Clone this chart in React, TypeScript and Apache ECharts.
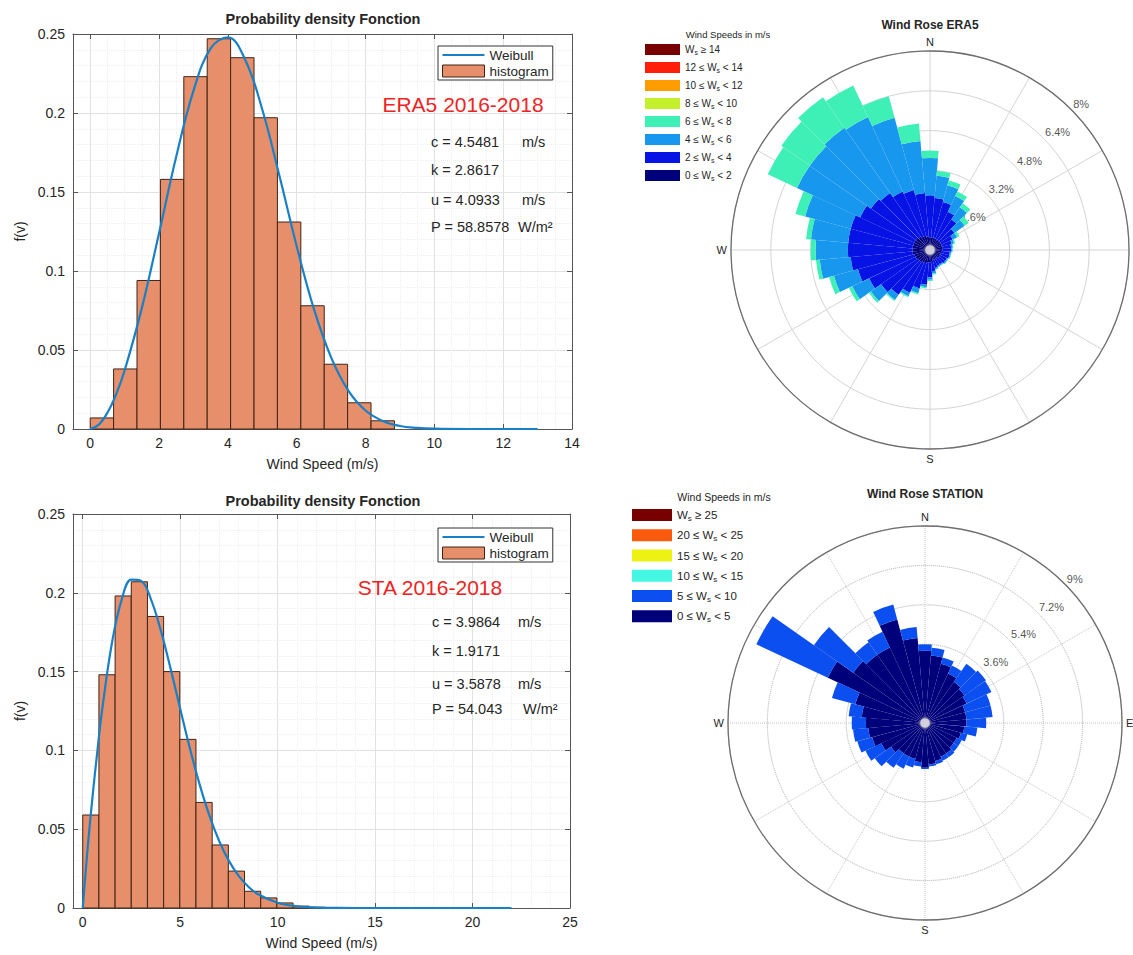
import React, { useEffect, useRef } from "react";
import * as echarts from "echarts";

// ---------------- Histogram + Weibull data ----------------
const ERA_BIN_EDGES = [0, 0.68, 1.36, 2.04, 2.72, 3.4, 4.08, 4.76, 5.44, 6.12, 6.8, 7.48, 8.16, 8.84];
const ERA_BIN_HEIGHTS = [0.007, 0.038, 0.094, 0.158, 0.223, 0.247, 0.235, 0.197, 0.131, 0.078, 0.041, 0.0166, 0.0052];
const ERA_WEIBULL_X = [0, 0.25, 0.5, 0.75, 1, 1.5, 2, 2.5, 3, 3.5, 4, 4.5, 5, 5.5, 6, 6.5, 7, 7.5, 8, 8.5, 9, 9.5, 10, 11, 12, 13];
const ERA_WEIBULL_Y = [0, 0.0028, 0.0103, 0.0218, 0.037, 0.0765, 0.1239, 0.1724, 0.214, 0.2409, 0.2479, 0.2339, 0.2022, 0.1601, 0.1157, 0.076, 0.0453, 0.0243, 0.0117, 0.0051, 0.0019, 0.0007, 0.0002, 0, 0, 0];

const STA_BIN_EDGES = [0, 0.83, 1.66, 2.49, 3.32, 4.15, 4.98, 5.81, 6.64, 7.47, 8.3, 9.13, 9.96, 10.79, 11.62, 12.45];
const STA_BIN_HEIGHTS = [0.059, 0.148, 0.198, 0.207, 0.185, 0.15, 0.107, 0.067, 0.04, 0.0234, 0.0106, 0.0064, 0.0032, 0.0012, 0.0005];
const STA_WEIBULL_X = [0, 0.25, 0.5, 0.75, 1, 1.5, 2, 2.5, 3, 3.5, 4, 4.5, 5, 5.5, 6, 6.5, 7, 7.5, 8, 8.5, 9, 10, 11, 12, 13, 14, 16, 19, 22];
const STA_WEIBULL_Y = [0, 0.0378, 0.0703, 0.0995, 0.1261, 0.1683, 0.1957, 0.2083, 0.2075, 0.1958, 0.1763, 0.1522, 0.1264, 0.1012, 0.0783, 0.0586, 0.0425, 0.0299, 0.0204, 0.0135, 0.0087, 0.0033, 0.0011, 0.0003, 0.0001, 0, 0, 0, 0];

const ERA_PARAM_TEXT = ["c = 4.5481", "k = 2.8617", "u = 4.0933", "P = 58.8578"];
const ERA_PARAM_UNITS = ["m/s", "", "m/s", "W/m²"];
const STA_PARAM_TEXT = ["c = 3.9864", "k = 1.9171", "u = 3.5878", "P = 54.043"];
const STA_PARAM_UNITS = ["m/s", "", "m/s", "W/m²"];

// ---------------- Wind rose data (% frequency per 10° sector, stacked) ----------------
const DIRECTIONS = ["0", "10", "20", "30", "40", "50", "60", "70", "80", "90", "100", "110", "120", "130", "140", "150", "160", "170",
  "180", "190", "200", "210", "220", "230", "240", "250", "260", "270", "280", "290", "300", "310", "320", "330", "340", "350"];

const ERA_0_2 = [0.5, 0.5, 0.5, 0.5, 0.5, 0.5, 0.5, 0.5, 0.5, 0.5, 0.45, 0.45, 0.45, 0.45, 0.4, 0.4, 0.4, 0.45, 0.5, 0.5, 0.55, 0.55, 0.6, 0.6, 0.65, 0.65, 0.7, 0.7, 0.7, 0.7, 0.7, 0.7, 0.65, 0.6, 0.6, 0.55];
const ERA_2_4 = [1.7, 1.6, 1.5, 1.2, 1.0, 0.7, 0.5, 0.4, 0.35, 0.35, 0.35, 0.35, 0.3, 0.3, 0.3, 0.3, 0.35, 0.4, 0.6, 0.9, 1.05, 1.35, 1.6, 1.8, 2.05, 2.35, 2.5, 2.6, 2.6, 2.6, 2.4, 2.2, 2.15, 2.0, 1.9, 1.75];
const ERA_4_6 = [1.5, 0.9, 0.7, 0.7, 0.6, 0.5, 0.2, 0.1, 0.07, 0.05, 0.05, 0.05, 0.05, 0.05, 0.05, 0.05, 0.05, 0.1, 0.1, 0.1, 0.2, 0.15, 0.25, 0.5, 0.75, 1.0, 1.25, 1.3, 1.5, 1.9, 2.8, 3.0, 3.2, 3.3, 3.0, 2.1];
const ERA_6_8 = [0.3, 0.2, 0.2, 0.2, 0.2, 0.2, 0.1, 0.05, 0.03, 0.02, 0.02, 0.02, 0.02, 0.02, 0.02, 0.02, 0.02, 0.05, 0.05, 0.05, 0.05, 0.05, 0.05, 0.1, 0.15, 0.2, 0.15, 0.2, 0.2, 0.4, 1.3, 1.4, 1.5, 1.4, 0.9, 0.7];
const ERA_EMPTY: number[] = [];
const ERA_RINGS = [1.6, 3.2, 4.8, 6.4, 8];

const STA_0_5 = [3.3, 3.1, 2.8, 2.5, 2.3, 2.2, 2.1, 1.9, 1.9, 1.9, 1.8, 1.7, 1.6, 1.6, 1.7, 1.7, 1.8, 1.9, 2.05, 1.8, 1.7, 1.7, 1.7, 1.9, 2.2, 2.5, 2.6, 2.7, 2.9, 3.3, 4.9, 4.0, 3.8, 3.8, 4.9, 3.9];
const STA_5_10 = [0.3, 0.35, 0.3, 0.4, 1.0, 1.2, 1.25, 1.2, 1.2, 0.9, 0.6, 0.3, 0.25, 0.25, 0.2, 0.2, 0.15, 0.1, 0.05, 0.2, 0.4, 0.6, 0.8, 0.9, 0.8, 0.7, 0.7, 0.65, 0.6, 1.1, 3.6, 2.2, 0.7, 0.8, 0.7, 0.5];
const STA_EMPTY: number[] = [];
const STA_RINGS = [1.8, 3.6, 5.4, 7.2, 9];

const ERA_CLASS_NAMES = ["era0", "era1", "era2", "era3", "era4", "era5", "era6", "era7"];
const ERA_CLASS_LABELS = [
  "{t|0 ≤ W}{s|s}{t| < 2}", "{t|2 ≤ W}{s|s}{t| < 4}", "{t|4 ≤ W}{s|s}{t| < 6}", "{t|6 ≤ W}{s|s}{t| < 8}",
  "{t|8 ≤ W}{s|s}{t| < 10}", "{t|10 ≤ W}{s|s}{t| < 12}", "{t|12 ≤ W}{s|s}{t| < 14}", "{t|W}{s|s}{t| ≥ 14}",
];
const ERA_CLASS_COLORS = ["#00007a", "#0712e4", "#1897ef", "#3ff0b6", "#c4f02c", "#ff9c00", "#ff1e0a", "#780000"];
const ERA_CLASS_DATA = [ERA_0_2, ERA_2_4, ERA_4_6, ERA_6_8, ERA_EMPTY, ERA_EMPTY, ERA_EMPTY, ERA_EMPTY];

const STA_CLASS_NAMES = ["sta0", "sta1", "sta2", "sta3", "sta4", "sta5"];
const STA_CLASS_LABELS = [
  "{t|0 ≤ W}{s|s}{t| < 5}", "{t|5 ≤ W}{s|s}{t| < 10}", "{t|10 ≤ W}{s|s}{t| < 15}",
  "{t|15 ≤ W}{s|s}{t| < 20}", "{t|20 ≤ W}{s|s}{t| < 25}", "{t|W}{s|s}{t| ≥ 25}",
];
const STA_CLASS_COLORS = ["#00007a", "#0c4ff0", "#45f7e2", "#eef212", "#fb5a0c", "#780000"];
const STA_CLASS_DATA = [STA_0_5, STA_5_10, STA_EMPTY, STA_EMPTY, STA_EMPTY, STA_EMPTY];

const ERA_COMPASS: any = { 0: "N", 180: "S", 270: "W" };
const STA_COMPASS: any = { 0: "N", 90: "E", 180: "S", 270: "W" };

// ---------------- styles ----------------
const FONT = '"Liberation Sans", Arial, Helvetica, sans-serif';
const TXT = "#262626";
const AXIS_C = "#555555";
const BAR_FILL = "#e68f6a";
const BAR_EDGE = "#3f2417";
const LINE_C = "#1a80c6";

function histXAxes(gi: number, xmax: number, splitNumber: number, minorSplit: number) {
  const common: any = { gridIndex: gi, type: "value", min: -0.5, max: xmax, splitNumber };
  return [
    {
      ...common,
      position: "bottom",
      axisLine: { show: true, onZero: false, lineStyle: { color: AXIS_C, width: 1 } },
      axisTick: { show: true, inside: true, length: 5, lineStyle: { color: AXIS_C } },
      axisLabel: { showMinLabel: false, margin: 7, fontSize: 14, color: TXT, fontFamily: FONT },
      splitLine: { show: true, lineStyle: { color: "#e2e2e2", width: 1 } },
      minorTick: { show: false, splitNumber: minorSplit },
      minorSplitLine: { show: true, lineStyle: { color: "#efefef", width: 1, type: "dotted" } },
      name: "Wind Speed (m/s)",
      nameLocation: "middle",
      nameGap: 28,
      nameTextStyle: { fontSize: 14, color: TXT, fontFamily: FONT },
    },
    {
      ...common,
      position: "top",
      axisLine: { show: true, onZero: false, lineStyle: { color: AXIS_C, width: 1 } },
      axisTick: { show: true, inside: true, length: 5, lineStyle: { color: AXIS_C } },
      axisLabel: { show: false },
      splitLine: { show: false },
    },
  ];
}

function histYAxes(gi: number) {
  const common: any = { gridIndex: gi, type: "value", min: 0, max: 0.25, interval: 0.05 };
  return [
    {
      ...common,
      position: "left",
      axisLine: { show: true, onZero: false, lineStyle: { color: AXIS_C, width: 1 } },
      axisTick: { show: true, inside: true, length: 5, lineStyle: { color: AXIS_C } },
      axisLabel: { margin: 8, fontSize: 14, color: TXT, fontFamily: FONT },
      splitLine: { show: true, lineStyle: { color: "#e2e2e2", width: 1 } },
      minorTick: { show: false, splitNumber: 5 },
      minorSplitLine: { show: true, lineStyle: { color: "#efefef", width: 1, type: "dotted" } },
      name: "f(v)",
      nameLocation: "middle",
      nameGap: 46,
      nameRotate: 90,
      nameTextStyle: { fontSize: 14, color: TXT, fontFamily: FONT },
    },
    {
      ...common,
      position: "right",
      axisLine: { show: true, onZero: false, lineStyle: { color: AXIS_C, width: 1 } },
      axisTick: { show: true, inside: true, length: 5, lineStyle: { color: AXIS_C } },
      axisLabel: { show: false },
      splitLine: { show: false },
    },
  ];
}

function histSeries(xi: number, yi: number, edges: number[], heights: number[]) {
  return {
    type: "custom",
    name: "histogram",
    xAxisIndex: xi,
    yAxisIndex: yi,
    data: heights.map((h, i) => [edges[i], edges[i + 1], h]),
    encode: { x: [0, 1], y: 2 },
    itemStyle: { color: BAR_FILL },
    z: 2,
    silent: true,
    renderItem: (_params: any, api: any) => {
      const a = api.coord([api.value(0), 0]);
      const b = api.coord([api.value(1), api.value(2)]);
      return {
        type: "rect",
        shape: { x: a[0], y: b[1], width: b[0] - a[0], height: a[1] - b[1] },
        style: { fill: BAR_FILL, stroke: BAR_EDGE, lineWidth: 1 },
      };
    },
  };
}

function weibullSeries(xi: number, yi: number, xs: number[], ys: number[]) {
  return {
    type: "line",
    name: "Weibull",
    xAxisIndex: xi,
    yAxisIndex: yi,
    data: xs.map((x, i) => [x, ys[i]]),
    symbol: "none",
    smooth: 0.4,
    lineStyle: { color: LINE_C, width: 2.2 },
    itemStyle: { color: LINE_C },
    z: 3,
    silent: true,
  };
}

function histLegend(left: number, top: number) {
  return {
    orient: "vertical",
    left,
    top,
    backgroundColor: "#ffffff",
    borderColor: "#333333",
    borderWidth: 1,
    borderRadius: 0,
    padding: [2, 4, 2, 4],
    itemGap: 2,
    itemWidth: 42,
    itemHeight: 12,
    itemTextGap: 3,
    selectedMode: false,
    symbolKeepAspect: true,
    textStyle: { fontSize: 13.5, color: TXT, fontFamily: FONT },
    data: [
      { name: "Weibull", icon: "path://M0,0L42,0L42,2.2L0,2.2Z", itemStyle: { color: LINE_C } },
      { name: "histogram", icon: "rect", itemStyle: { color: BAR_FILL, borderColor: BAR_EDGE, borderWidth: 1 } },
    ],
  };
}

function roseAxes(dataIdx: number, gridIdx: number, max: number, ring: number, dotted: boolean, compass: any) {
  const angle = [
    {
      polarIndex: dataIdx, type: "category", data: DIRECTIONS, startAngle: 95, clockwise: true,
      axisLine: { show: false }, axisTick: { show: false }, axisLabel: { show: false }, splitLine: { show: false },
    },
    {
      polarIndex: gridIdx, type: "value", min: 0, max: 360, interval: 30, startAngle: 90, clockwise: true,
      axisLine: { show: true, lineStyle: { color: "#6e6e6e", width: 1.3 } },
      axisTick: { show: false },
      axisLabel: {
        show: true, margin: 4, fontSize: 11, color: TXT, fontFamily: FONT,
        formatter: (v: number) => (v < 360 && compass[v] ? compass[v] : ""),
      },
      splitLine: { show: true, lineStyle: { color: dotted ? "#c4c4c4" : "#d4d4d4", width: 1, type: dotted ? "dotted" : "solid" } },
    },
  ];
  const radius = [
    {
      polarIndex: dataIdx, type: "value", min: 0, max,
      axisLine: { show: false }, axisTick: { show: false }, axisLabel: { show: false }, splitLine: { show: false },
    },
    {
      polarIndex: gridIdx, type: "value", min: 0, max, interval: ring,
      axisLine: { show: false }, axisTick: { show: false }, axisLabel: { show: false },
      splitLine: { show: true, lineStyle: { color: dotted ? "#a9a9a9" : "#d4d4d4", width: 1, type: dotted ? "dotted" : "solid" } },
    },
  ];
  return { angle, radius };
}

function roseSeries(dataIdx: number, gridIdx: number, stack: string, names: string[], colors: string[], datas: number[][], rings: number[]) {
  const bars = names.map((n, i) => ({
    type: "bar",
    name: n,
    coordinateSystem: "polar",
    polarIndex: dataIdx,
    stack,
    data: datas[i],
    itemStyle: { color: colors[i] },
    barCategoryGap: "0%",
    z: 2,
    silent: true,
  }));
  const ringLabels = {
    type: "scatter",
    coordinateSystem: "polar",
    polarIndex: gridIdx,
    data: rings.map((r) => [r, 45]),
    symbolSize: 1,
    itemStyle: { color: "rgba(0,0,0,0)" },
    label: {
      show: true, position: "right", distance: 2, offset: [0, -5],
      formatter: (p: any) => p.value[0] + "%",
      fontSize: 11, color: TXT, fontFamily: FONT,
    },
    z: 1,
    silent: true,
  };
  const centerDot = {
    type: "scatter",
    coordinateSystem: "polar",
    polarIndex: gridIdx,
    data: [[0, 0]],
    symbolSize: 10,
    itemStyle: { color: "#f6f3f3", borderColor: "#8e8e8e", borderWidth: 1 },
    z: 5,
    silent: true,
  };
  return [...bars, ringLabels, centerDot];
}

function roseLegend(left: number, top: number, names: string[], labels: string[], w: number, h: number, gap: number, fs: number) {
  const map: any = {};
  names.forEach((n, i) => (map[n] = labels[i]));
  return {
    orient: "vertical",
    left,
    top,
    itemWidth: w,
    itemHeight: h,
    itemGap: gap,
    itemTextGap: 3,
    icon: "rect",
    selectedMode: false,
    padding: 0,
    data: [...names].reverse(),
    formatter: (n: string) => map[n],
    textStyle: {
      fontSize: fs, color: TXT, fontFamily: FONT,
      rich: {
        t: { fontSize: fs, color: TXT, fontFamily: FONT, verticalAlign: "middle", lineHeight: fs + 3 },
        s: { fontSize: fs * 0.7, color: TXT, fontFamily: FONT, verticalAlign: "bottom" },
      },
    },
  };
}

function txt(x: number, y: number, text: string, size: number, opts: any = {}) {
  return {
    type: "text",
    x,
    y,
    silent: true,
    z: 10,
    style: {
      text,
      fontSize: size,
      fontFamily: FONT,
      fontWeight: opts.bold ? "bold" : "normal",
      fill: opts.color || TXT,
      align: opts.align || "left",
      verticalAlign: "middle",
    },
  };
}

function buildOption() {
  const topX = histXAxes(0, 14, 7, 4);
  const botX = histXAxes(1, 25, 5, 5);
  const topY = histYAxes(0);
  const botY = histYAxes(1);

  const eraRose = roseAxes(0, 1, 8, 1.6, false, ERA_COMPASS);
  const staRose = roseAxes(2, 3, 9, 1.8, true, STA_COMPASS);

  const eraParamYs = [142, 170, 200, 227];
  const eraUnitXs = [522, 0, 522, 518];
  const staParamYs = [622, 651, 684, 709];
  const staUnitXs = [518, 0, 518, 523];

  const graphics: any[] = [
    txt(323, 19, "Probability density Fonction", 14.5, { bold: true, align: "center" }),
    txt(323, 501, "Probability density Fonction", 14.5, { bold: true, align: "center" }),
    txt(463, 104, "ERA5 2016-2018", 21, { color: "#ee2424", align: "center" }),
    txt(430, 587, "STA 2016-2018", 21, { color: "#ee2424", align: "center" }),
    txt(930, 25, "Wind Rose ERA5", 12, { bold: true, align: "center" }),
    txt(925, 494, "Wind Rose STATION", 12, { bold: true, align: "center" }),
    txt(728, 34, "Wind Speeds in m/s", 9.5, { align: "center" }),
    txt(724, 497, "Wind Speeds in m/s", 10.5, { align: "center" }),
  ];
  ERA_PARAM_TEXT.forEach((t, i) => {
    graphics.push(txt(431, eraParamYs[i], t, 14.5));
    if (ERA_PARAM_UNITS[i]) graphics.push(txt(eraUnitXs[i], eraParamYs[i], ERA_PARAM_UNITS[i], 14.5));
  });
  STA_PARAM_TEXT.forEach((t, i) => {
    graphics.push(txt(432, staParamYs[i], t, 14.5));
    if (STA_PARAM_UNITS[i]) graphics.push(txt(staUnitXs[i], staParamYs[i], STA_PARAM_UNITS[i], 14.5));
  });

  return {
    animation: false,
    backgroundColor: "#ffffff",
    textStyle: { fontFamily: FONT },
    grid: [
      { left: 73, top: 34, width: 499, height: 395 },
      { left: 73, top: 514, width: 497, height: 394 },
    ],
    xAxis: [...topX, ...botX],
    yAxis: [...topY, ...botY],
    polar: [
      { center: [930, 250], radius: 199 },
      { center: [930, 250], radius: 199 },
      { center: [925, 723], radius: 197 },
      { center: [925, 723], radius: 197 },
    ],
    angleAxis: [...eraRose.angle, ...staRose.angle],
    radiusAxis: [...eraRose.radius, ...staRose.radius],
    legend: [
      histLegend(438, 46),
      histLegend(438, 528),
      roseLegend(645, 44, ERA_CLASS_NAMES, ERA_CLASS_LABELS, 35, 11, 6, 10),
      roseLegend(632, 509, STA_CLASS_NAMES, STA_CLASS_LABELS, 40, 12, 7, 11.5),
    ],
    series: [
      histSeries(0, 0, ERA_BIN_EDGES, ERA_BIN_HEIGHTS),
      weibullSeries(0, 0, ERA_WEIBULL_X, ERA_WEIBULL_Y),
      histSeries(2, 2, STA_BIN_EDGES, STA_BIN_HEIGHTS),
      weibullSeries(2, 2, STA_WEIBULL_X, STA_WEIBULL_Y),
      ...roseSeries(0, 1, "era", ERA_CLASS_NAMES, ERA_CLASS_COLORS, ERA_CLASS_DATA, ERA_RINGS),
      ...roseSeries(2, 3, "sta", STA_CLASS_NAMES, STA_CLASS_COLORS, STA_CLASS_DATA, STA_RINGS),
    ],
    graphic: graphics,
  };
}

export default function App() {
  const ref = useRef<HTMLDivElement>(null);
  useEffect(() => {
    if (!ref.current) return;
    const chart = echarts.init(ref.current, null, { renderer: "svg" });
    chart.setOption(buildOption() as any);
    return () => chart.dispose();
  }, []);
  return (
    <div
      ref={ref}
      style={{ position: "fixed", left: 0, top: 0, width: 1133, height: 955, background: "#ffffff" }}
    />
  );
}
